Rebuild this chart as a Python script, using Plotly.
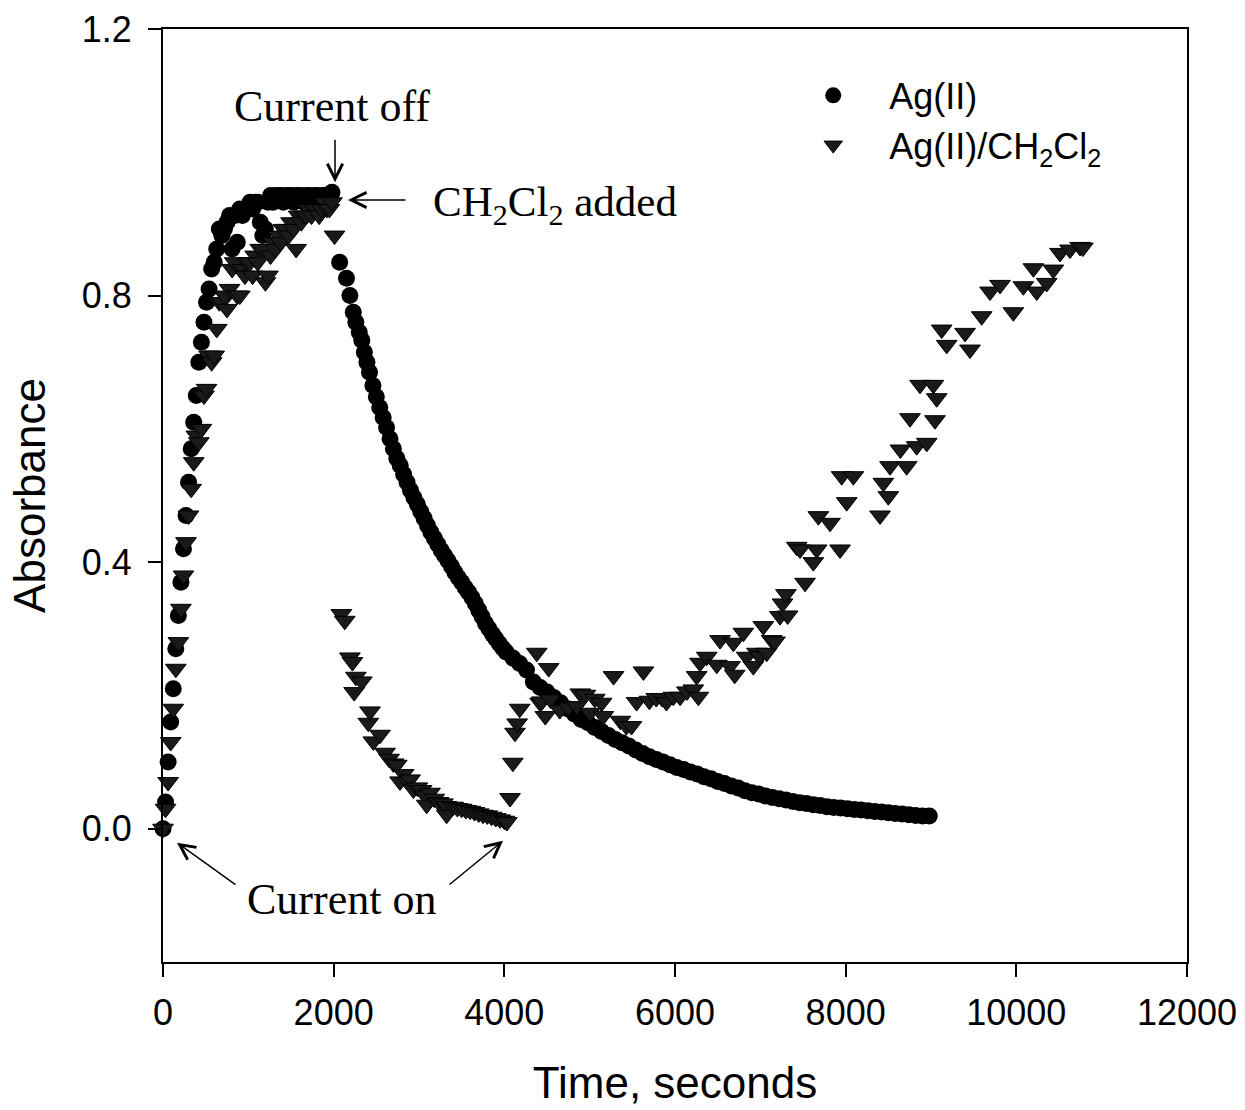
import plotly.graph_objects as go

# Ag(II) alone: time (s) and absorbance
ag_time = [
    0, 30, 60, 90, 120, 150, 180, 210, 240, 270, 300, 330, 360, 390, 420, 450, 480, 510, 540, 570,
    600, 630, 660, 690, 720, 750, 780, 810, 840, 870, 900, 930, 960, 990, 1020, 1050, 1080, 1110,
    1140, 1170, 1200, 1230, 1260, 1290, 1320, 1350, 1380, 1410, 1440, 1470, 1500, 1530, 1560, 1590,
    1620, 1650, 1680, 1710, 1740, 1770, 1800, 1830, 1860, 1890, 1920, 1950, 1980,
    2070, 2150, 2190, 2230, 2260, 2300, 2330, 2360, 2390, 2420, 2460, 2500, 2540, 2580, 2620, 2660,
    2700, 2740, 2780, 2820, 2860, 2900, 2940, 2980, 3020, 3060, 3100, 3140, 3180, 3220, 3260, 3300,
    3340, 3380, 3420, 3460, 3500, 3540, 3580, 3620, 3660, 3700, 3740, 3780, 3820, 3860, 3900, 3940,
    3980, 4020, 4100, 4180, 4260, 4340, 4420, 4500, 4580, 4660, 4740, 4820, 4900, 4980, 5060, 5140,
    5220, 5300, 5380, 5460, 5540, 5620, 5700, 5780, 5860, 5940, 6020, 6100, 6180, 6260, 6340, 6420,
    6500, 6580, 6660, 6740, 6820, 6900, 6980, 7060, 7140, 7220, 7300, 7380, 7460, 7540, 7620, 7700,
    7780, 7860, 7940, 8020, 8100, 8180, 8260, 8340, 8420, 8500, 8580, 8660, 8740, 8820, 8900, 8980,
]
ag_abs = [
    0.00, 0.04, 0.10, 0.16, 0.21, 0.27, 0.32, 0.37, 0.42, 0.47, 0.52, 0.57, 0.61, 0.65, 0.70, 0.73,
    0.76, 0.79, 0.81, 0.84, 0.85, 0.87, 0.90, 0.89, 0.90, 0.91, 0.92, 0.87, 0.92, 0.88, 0.93, 0.92,
    0.93, 0.93, 0.94, 0.93, 0.94, 0.94, 0.91, 0.89, 0.90, 0.94, 0.95, 0.94, 0.95, 0.95, 0.95, 0.94,
    0.95, 0.95, 0.95, 0.94, 0.95, 0.95, 0.95, 0.94, 0.95, 0.95, 0.94, 0.95, 0.95, 0.94, 0.95, 0.95,
    0.94, 0.95, 0.955,
    0.850, 0.826, 0.800, 0.775, 0.760, 0.745, 0.733, 0.715, 0.700, 0.685, 0.665, 0.648, 0.632, 0.617,
    0.602, 0.585, 0.570, 0.556, 0.545, 0.532, 0.520, 0.508, 0.497, 0.487, 0.476, 0.466, 0.455, 0.445,
    0.436, 0.427, 0.418, 0.410, 0.402, 0.394, 0.385, 0.377, 0.370, 0.362, 0.355, 0.347, 0.338, 0.328,
    0.318, 0.308, 0.300, 0.292, 0.285, 0.278, 0.271, 0.265, 0.256, 0.248, 0.238, 0.220, 0.212, 0.205,
    0.197, 0.189, 0.180, 0.172, 0.164, 0.159, 0.152, 0.146, 0.140, 0.134, 0.129, 0.124, 0.118, 0.113,
    0.108, 0.104, 0.100, 0.096, 0.092, 0.089, 0.085, 0.082, 0.078, 0.075, 0.071, 0.068, 0.064, 0.061,
    0.057, 0.054, 0.052, 0.049, 0.047, 0.045, 0.043, 0.041, 0.039, 0.038, 0.036, 0.035, 0.033, 0.032,
    0.031, 0.030, 0.029, 0.028, 0.027, 0.026, 0.025, 0.024, 0.023, 0.022, 0.021, 0.020, 0.019, 0.019,
]

# Ag(II) with CH2Cl2 added at 2000 s, current back on at 4000 s
dcm_time = [
    0, 30, 60, 90, 120, 150, 180, 210, 240, 270, 300, 330, 360, 390, 420, 450, 480, 510, 540, 570,
    600, 630, 660, 690, 720, 750, 780, 810, 840, 870, 900, 930, 960, 990, 1020, 1050, 1080, 1110,
    1140, 1170, 1200, 1230, 1260, 1290, 1320, 1350, 1380, 1410, 1440, 1470, 1500, 1530, 1560, 1590,
    1620, 1650, 1680, 1710, 1740, 1770, 1800, 1830, 1860, 1890, 1920, 1950, 1980, 2010,
    2090, 2130, 2190, 2220, 2240, 2260, 2330, 2406, 2426, 2465, 2543, 2602, 2650, 2700, 2739, 2777,
    2820, 2870, 2895, 2934, 2980, 3030, 3070, 3090, 3129, 3180, 3230, 3280, 3324, 3324, 3400, 3450,
    3500, 3550, 3600, 3650, 3700, 3750, 3800, 3850, 3900, 3950, 4000, 4030,
    4067, 4100, 4125, 4150, 4180, 4380, 4420, 4440, 4480, 4520, 4540, 4650, 4750, 4850, 4890, 4950,
    5004, 5060, 5140, 5160, 5280, 5360, 5430, 5490, 5550, 5630, 5700, 5780, 5850, 5900, 5980, 6060,
    6140, 6215, 6254, 6274, 6293, 6372, 6490, 6528, 6645, 6684, 6700, 6801, 6840, 6918, 6960, 6996,
    7035, 7074, 7133, 7172, 7230, 7260, 7300, 7320, 7426, 7465, 7524, 7621, 7660, 7680, 7817, 7934,
    7953, 8012, 8090, 8403, 8442, 8500, 8520, 8641, 8715, 8754, 8832, 8871, 8950, 9028, 9047, 9067,
    9125, 9184, 9399, 9457, 9594, 9692, 9809, 9965, 10082, 10200, 10239, 10356, 10434, 10512, 10629,
    10747, 10780,
]
dcm_abs = [
    0.00, 0.03, 0.07, 0.13, 0.18, 0.24, 0.28, 0.33, 0.38, 0.43, 0.47, 0.51, 0.55, 0.59, 0.58, 0.60,
    0.65, 0.66, 0.71, 0.70, 0.71, 0.75, 0.79, 0.79, 0.80, 0.78, 0.81, 0.84, 0.85, 0.80, 0.80, 0.84,
    0.83, 0.85, 0.85, 0.83, 0.86, 0.85, 0.87, 0.87, 0.82, 0.83, 0.86, 0.88, 0.87, 0.89, 0.88, 0.90,
    0.90, 0.89, 0.91, 0.90, 0.87, 0.92, 0.91, 0.92, 0.92, 0.93, 0.92, 0.93, 0.93, 0.92, 0.93, 0.94,
    0.93, 0.93, 0.94, 0.89,
    0.322, 0.312, 0.257, 0.250, 0.205, 0.228, 0.221, 0.159, 0.176, 0.131, 0.141, 0.114, 0.105, 0.098,
    0.096, 0.071, 0.082, 0.070, 0.074, 0.059, 0.062, 0.058, 0.050, 0.036, 0.054, 0.045, 0.040, 0.038,
    0.034, 0.021, 0.033, 0.031, 0.030, 0.028, 0.027, 0.025, 0.023, 0.021, 0.020, 0.018, 0.016, 0.014,
    0.012, 0.010,
    0.046, 0.099, 0.144, 0.158, 0.180, 0.264, 0.189, 0.191, 0.169, 0.241, 0.194, 0.178, 0.182, 0.184,
    0.203, 0.201, 0.174, 0.195, 0.189, 0.169, 0.229, 0.162, 0.154, 0.154, 0.190, 0.236, 0.192, 0.196,
    0.196, 0.190, 0.198, 0.198, 0.206, 0.209, 0.229, 0.198, 0.249, 0.258, 0.246, 0.283, 0.244, 0.279,
    0.231, 0.294, 0.258, 0.244, 0.264, 0.259, 0.304, 0.264, 0.283, 0.281, 0.319, 0.338, 0.352, 0.320,
    0.423, 0.419, 0.369, 0.400, 0.419, 0.469, 0.459, 0.419, 0.529, 0.490, 0.529, 0.470, 0.519, 0.499,
    0.544, 0.569, 0.544, 0.616, 0.574, 0.666, 0.579, 0.666, 0.613, 0.646, 0.749, 0.726, 0.744, 0.719,
    0.769, 0.806, 0.816, 0.775, 0.814, 0.841, 0.806, 0.819, 0.839, 0.864, 0.869, 0.873, 0.872,
]

x_ticks = [0, 2000, 4000, 6000, 8000, 10000, 12000]
x_labels = ["0", "2000", "4000", "6000", "8000", "10000", "12000"]
y_ticks = [0.0, 0.4, 0.8, 1.2]
y_labels = ["0.0", "0.4", "0.8", "1.2"]

SANS = "Liberation Sans, Arial, sans-serif"
SERIF = "Liberation Serif, Times New Roman, serif"
# invisible spacer to widen the gap between legend symbol and label
GAP = '<span style="color:rgba(0,0,0,0)">rrr</span>'

fig = go.Figure()
fig.add_trace(go.Scatter(
    x=ag_time, y=ag_abs, mode="markers", name=GAP + "Ag(II)", cliponaxis=False,
    marker=dict(symbol="circle", size=17, color="black"),
))
fig.add_trace(go.Scatter(
    x=dcm_time, y=dcm_abs, mode="markers", name=GAP + "Ag(II)/CH<sub>2</sub>Cl<sub>2</sub>",
    cliponaxis=False,
    marker=dict(symbol="triangle-down", size=18, color="#1a1a1a", line=dict(color="black", width=1)),
))

# arrows (tail -> head) in data units
arrows = [
    (2016, 1.036, 2016, 0.970),
    (2859, 0.9435, 2168, 0.9435),
    (867, -0.0855, 164, -0.021),
    (3340, -0.0855, 3985, -0.018),
]
for ax_, ay_, x_, y_ in arrows:
    fig.add_annotation(x=x_, y=y_, ax=ax_, ay=ay_, xref="x", yref="y", axref="x", ayref="y",
                       text="", showarrow=True, arrowhead=5, arrowsize=2, arrowwidth=1.5,
                       arrowcolor="black")

fig.add_annotation(x=1980, y=1.083, text="Current off", showarrow=False,
                   font=dict(family=SERIF, size=44, color="black"))
fig.add_annotation(x=3140, y=0.936, text="CH<sub>2</sub>Cl<sub>2</sub> added", showarrow=False,
                   xanchor="left", font=dict(family=SERIF, size=43, color="black"))
fig.add_annotation(x=2086, y=-0.1065, text="Current on", showarrow=False,
                   font=dict(family=SERIF, size=44, color="black"))

fig.update_layout(
    width=1245, height=1110,
    margin=dict(l=163, r=58, t=29, b=148, autoexpand=False),
    paper_bgcolor="white", plot_bgcolor="white",
    font=dict(family=SANS, size=36, color="black"),
    legend=dict(x=0.635, y=0.961, xanchor="left", yanchor="top", bgcolor="rgba(0,0,0,0)",
                font=dict(family=SANS, size=36), tracegroupgap=0),
)
fig.update_xaxes(
    range=[0, 12000], tickvals=x_ticks, ticktext=x_labels, automargin=True,
    showgrid=False, zeroline=False, showline=True, linecolor="black", linewidth=2, mirror=True,
    ticks="outside", ticklen=13, tickwidth=2, tickcolor="black", ticklabelstandoff=5,
    tickfont=dict(family=SANS, size=36),
    title=dict(text="Time, seconds", font=dict(family=SANS, size=44), standoff=35),
)
fig.update_yaxes(
    range=[-0.2, 1.2], tickvals=y_ticks, ticktext=y_labels, automargin=True,
    showgrid=False, zeroline=False, showline=True, linecolor="black", linewidth=2, mirror=True,
    ticks="outside", ticklen=13, tickwidth=2, tickcolor="black", ticklabelstandoff=9,
    tickfont=dict(family=SANS, size=36),
    title=dict(text="Absorbance", font=dict(family=SANS, size=44), standoff=22),
)

fig.write_html("out.html", config={"displayModeBar": False},
               post_script="document.body.style.margin='0';")
